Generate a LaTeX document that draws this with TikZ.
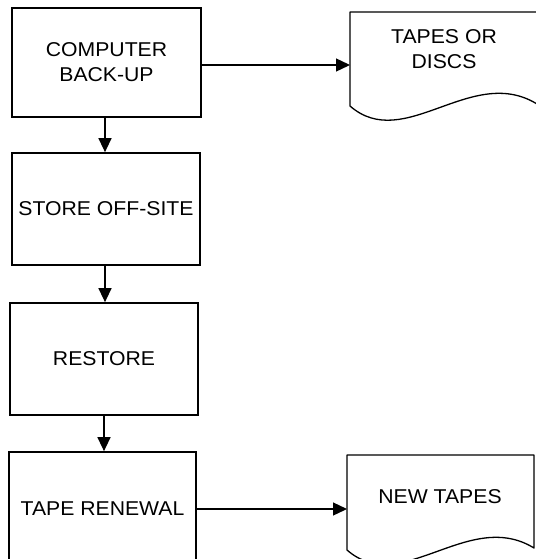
\documentclass[tikz,border=0pt]{standalone}
\usepackage{fontspec}
\setmainfont{Liberation Sans}[FakeStretch=1.06]
\usetikzlibrary{arrows.meta}
\begin{document}
\begin{tikzpicture}[x=1pt,y=-1pt,
  lbl/.style={inner sep=0pt, align=center, font=\fontsize{20}{25}\selectfont},
  box/.style={lbl, draw, line width=1.7pt, rectangle},
  docline/.style={line width=1.3pt, line join=round},
  arr/.style={line width=1.3pt, -{Triangle[length=14pt,width=13pt]}}]
\useasboundingbox (0,0) rectangle (535,559);
% process boxes
\node[box, minimum width=189pt, minimum height=109pt] (b1) at (106.5,62.5) {COMPUTER\\BACK-UP};
\node[box, minimum width=188pt, minimum height=112pt] (b2) at (106,209) {STORE OFF-SITE};
\node[box, minimum width=188pt, minimum height=112pt] (b3) at (104,359) {RESTORE};
\node[box, minimum width=187pt, minimum height=114pt] (b4) at (102.5,509) {TAPE RENEWAL};
% documents
\draw[docline] (350,106) -- (350,12) -- (537,12) -- (537,104)
  .. controls (471.6,63.8) and (404.3,153.4) .. (350,106) -- cycle;
\draw[docline] (347,550) -- (347,455) -- (534,455) -- (534,548)
  .. controls (468.6,507.8) and (401.3,597.4) .. (347,550) -- cycle;
\coordinate (d1) at (350,65);
\coordinate (d2) at (347,509);
\node[lbl] (t1) at (444,49.5) {TAPES OR\\DISCS};
\node[lbl] (t2) at (440,497) {NEW TAPES};
% connectors
\draw[arr] (b1.south -| 105,0) -- (b2.north -| 105,0);
\draw[arr] (b2.south -| 105,0) -- (b3.north -| 105,0);
\draw[arr] (b3.south -| 104,0) -- (b4.north -| 104,0);
\draw[arr] (b1.east |- d1) -- (d1);
\draw[arr] (b4.east |- d2) -- (d2);
\end{tikzpicture}
\end{document}
